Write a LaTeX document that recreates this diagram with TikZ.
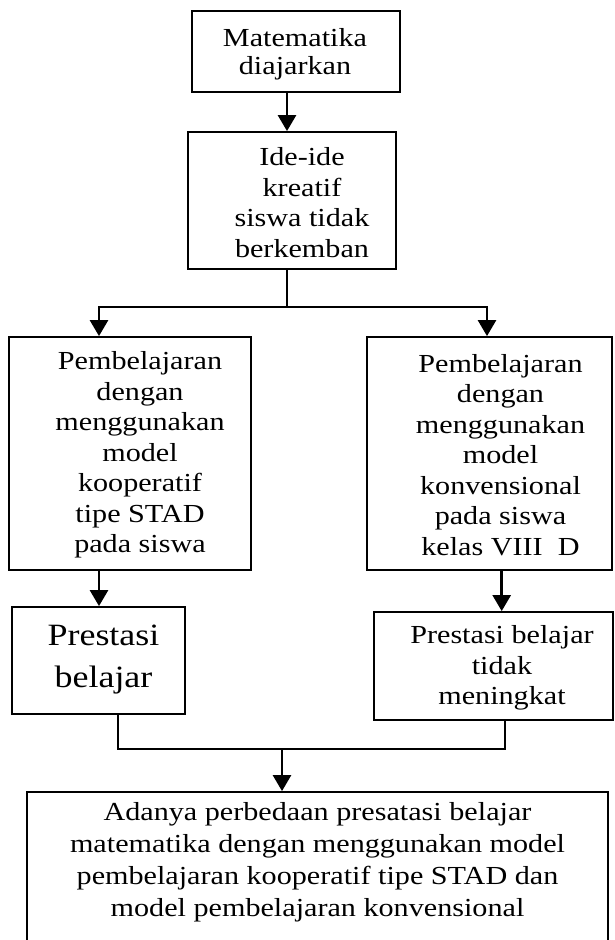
\documentclass[tikz,border=0pt]{standalone}
\usepackage{fontspec}
\setmainfont[FakeStretch=1.16]{Liberation Serif}
\usetikzlibrary{arrows.meta}
\begin{document}
\begin{tikzpicture}[x=1pt,y=-1pt,
  box/.style={draw=black, line width=1.8pt, inner sep=0pt, fill=none},
  txt/.style={align=center, inner sep=0pt, font=\fontsize{26}{30.5}\selectfont},
  ln/.style={draw=black, line width=1.8pt},
  arr/.style={draw=black, line width=2.6pt, -{Triangle[width=18pt,length=16pt]}}]
\useasboundingbox (0,0) rectangle (614,940);
\fill[white] (0,0) rectangle (614,940);

% boxes
\node[box, minimum width=208pt, minimum height=81pt] (b1) at (296,51.5) {};
\node[box, minimum width=208pt, minimum height=137pt] (b2) at (292,200.5) {};
\node[box, minimum width=242pt, minimum height=233pt] (b3) at (130,453.5) {};
\node[box, minimum width=245pt, minimum height=233pt] (b4) at (489.5,453.5) {};
\node[box, minimum width=173pt, minimum height=107pt] (b5) at (98.5,660.5) {};
\node[box, minimum width=239pt, minimum height=108pt] (b6) at (493.5,666) {};
\node[box, minimum width=581pt, minimum height=153pt] (b7) at (317.5,868.5) {};

% texts
\node[txt, font=\fontsize{26}{28}\selectfont] (t1) at (295,54.5) {Matematika\\diajarkan};
\node[txt] (t2) at (302,202.6) {Ide-ide\\kreatif\\siswa tidak\\berkemban};
\node[txt] (t3) at (140,455) {Pembelajaran\\dengan\\menggunakan\\model\\kooperatif\\tipe STAD\\pada siswa};
\node[txt] (t4) at (500.5,455) {Pembelajaran\\dengan\\menggunakan\\model\\konvensional\\pada siswa\\kelas VIII\ \ D};
\node[txt, font=\fontsize{31}{42}\selectfont] (t5) at (103.5,659.5) {Prestasi\\belajar};
\node[txt] (t6) at (502,668) {Prestasi belajar\\tidak\\meningkat};
\node[txt, font=\fontsize{26}{32}\selectfont] (t7) at (317.5,862) {Adanya perbedaan presatasi belajar\\matematika dengan menggunakan model\\pembelajaran kooperatif tipe STAD dan\\model pembelajaran konvensional};

% connector coordinates
\coordinate (xa) at (287,0);
\coordinate (j1) at (287,307);
\coordinate (jl) at (99,307);
\coordinate (jr) at (487,307);
\coordinate (xl) at (99,0);
\coordinate (xr) at (501.7,0);
\coordinate (kl) at (118,749);
\coordinate (kr) at (505,749);
\coordinate (km) at (282,749);

% connectors
\draw[arr] (b1.south -| xa) -- (b2.north -| xa);
\draw[ln] (b2.south -| j1) -- (j1);
\draw[ln, line cap=rect] (jl) -- (jr);
\draw[arr] (jl) -- (jl |- b3.north);
\draw[arr] (jr) -- (jr |- b4.north);
\draw[arr] (b3.south -| xl) -- (b5.north -| xl);
\draw[arr] (b4.south -| xr) -- (b6.north -| xr);
\draw[ln, line join=miter] (b5.south -| kl) -- (kl) -- (kr) -- (b6.south -| kr);
\draw[arr] (km) -- (km |- b7.north);
\end{tikzpicture}
\end{document}
